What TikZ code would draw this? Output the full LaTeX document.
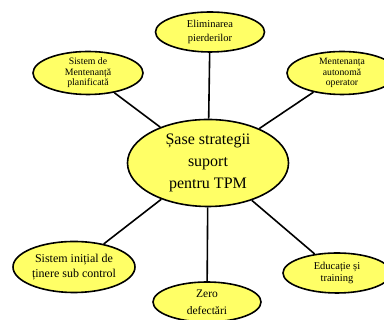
\documentclass[tikz,border=0pt]{standalone}
\usepackage{fontspec}
\setmainfont{Liberation Serif}
\usetikzlibrary{shapes.geometric}
\definecolor{elfill}{RGB}{255,255,102}
\begin{document}
\begin{tikzpicture}[x=1pt,y=1pt,
  el/.style={ellipse,draw=black,line width=1.6pt,fill=elfill,inner sep=0pt,align=center},
  conn/.style={draw=black,line width=1.6pt}]
\useasboundingbox (0,0) rectangle (384,320);
\begin{scope}
\clip (0,0) rectangle (384,320);
\node[el,minimum width=161pt,minimum height=87pt,font=\fontsize{16}{22}\selectfont] (c) at (208,157) {Șase strategii\\suport\\pentru TPM};
\node[el,minimum width=109pt,minimum height=40pt,font=\fontsize{10.5}{14}\selectfont] (t) at (210,288) {Eliminarea\\pierderilor};
\node[el,minimum width=110pt,minimum height=43pt,font=\fontsize{9.8}{10.5}\selectfont] (tl) at (88,247) {Sistem de\\Mentenanță\\planificată};
\node[el,minimum width=110pt,minimum height=43pt,font=\fontsize{9.7}{10.5}\selectfont] (tr) at (342,247) {Mentenanța\\autonomă\\operator};
\node[el,minimum width=122pt,minimum height=51pt,font=\fontsize{12}{15}\selectfont] (bl) at (74,53) {Sistem inițial de\\ținere sub control};
\node[el,minimum width=108pt,minimum height=40pt,font=\fontsize{11.5}{17}\selectfont] (b) at (207,18) {Zero\\defectări};
\node[el,minimum width=108pt,minimum height=40pt,font=\fontsize{10.5}{12}\selectfont] (br) at (337,47) {Educație și\\training};
\draw[conn] (c) -- (t);
\draw[conn] (c) -- (tl);
\draw[conn] (c) -- (tr);
\draw[conn] (c) -- (bl);
\draw[conn] (c) -- (b);
\draw[conn] (c) -- (br);
\end{scope}
\end{tikzpicture}
\end{document}
